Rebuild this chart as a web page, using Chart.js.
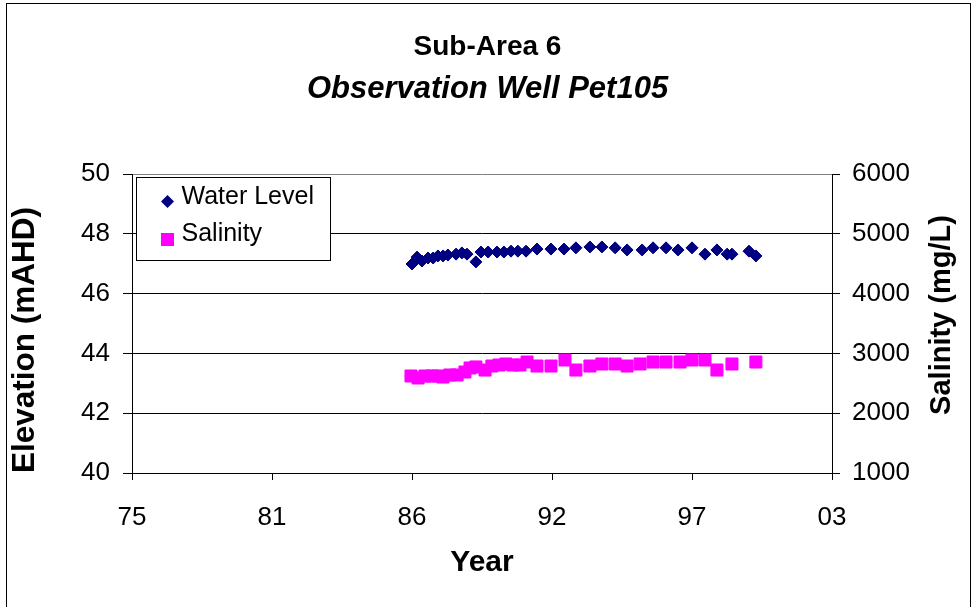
<!DOCTYPE html>
<html><head><meta charset="utf-8">
<script src="https://cdn.jsdelivr.net/npm/chart.js@4/dist/chart.umd.min.js"></script>
<style>html,body{margin:0;padding:0;background:#fff}canvas{display:block}</style>
</head><body>
<canvas id="c" width="975" height="607"></canvas>
<script>
const titleText = 'Sub-Area 6';
const subtitleText = 'Observation Well Pet105';
const xTitle = 'Year';
const yTitle = 'Elevation (mAHD)';
const y2Title = 'Salinity (mg/L)';
const xTickValues = [1975.5, 1981, 1986.5, 1992, 1997.5, 2003];
const xTickLabels = ['75', '81', '86', '92', '97', '03'];

const waterYears = [1986.50, 1986.70, 1986.89, 1987.13, 1987.33, 1987.52, 1987.72, 1987.91, 1988.23, 1988.46,
  1988.66, 1989.01, 1989.21, 1989.49, 1989.84, 1990.11, 1990.39, 1990.66, 1990.98, 1991.41,
  1991.96, 1992.47, 1992.94, 1993.49, 1993.96, 1994.48, 1994.95, 1995.54, 1995.97, 1996.48,
  1996.95, 1997.50, 1998.01, 1998.48, 1998.88, 1999.07, 1999.74, 2000.01];
const waterLevels = [46.99, 47.22, 47.09, 47.19, 47.19, 47.26, 47.26, 47.29, 47.32, 47.36,
  47.32, 47.06, 47.39, 47.39, 47.39, 47.39, 47.42, 47.42, 47.42, 47.49,
  47.49, 47.49, 47.53, 47.56, 47.56, 47.53, 47.46, 47.46, 47.53, 47.53,
  47.46, 47.53, 47.32, 47.46, 47.32, 47.32, 47.42, 47.26];

const salinityYears = [1986.46, 1986.74, 1987.01, 1987.29, 1987.52, 1987.72, 1987.99, 1988.27, 1988.58, 1988.78,
  1989.01, 1989.37, 1989.64, 1989.92, 1990.19, 1990.47, 1990.74, 1991.02, 1991.41, 1991.96,
  1992.51, 1992.94, 1993.49, 1993.96, 1994.48, 1994.95, 1995.46, 1995.97, 1996.48, 1997.03,
  1997.50, 1998.01, 1998.48, 1999.07, 2000.01];
const salinityValues = [2622, 2589, 2622, 2622, 2622, 2605, 2639, 2639, 2689, 2756,
  2773, 2722, 2789, 2806, 2823, 2806, 2806, 2856, 2789, 2789,
  2890, 2722, 2789, 2823, 2823, 2789, 2823, 2856, 2856, 2856,
  2890, 2890, 2722, 2823, 2856];

const FONT = "'Liberation Sans', Arial, sans-serif";

const waterPoints = waterYears.map((x, i) => ({x, y: waterLevels[i]}));
const salinityPoints = salinityYears.map((x, i) => ({x, y: salinityValues[i]}));

const frame = {
  id: 'frame',
  beforeDraw(chart) {
    const ctx = chart.ctx;
    ctx.save();
    ctx.fillStyle = '#fff';
    ctx.fillRect(0, 0, chart.width, chart.height);
    ctx.strokeStyle = '#000';
    ctx.lineWidth = 1;
    ctx.strokeRect(6.5, 3.5, 964, 640);
    ctx.restore();
  }
};

// vertical axis titles, both reading bottom-to-top
const axisTitles = {
  id: 'axisTitles',
  afterDraw(chart) {
    const ctx = chart.ctx;
    const a = chart.chartArea;
    ctx.save();
    ctx.fillStyle = '#000';
    ctx.textAlign = 'center';
    ctx.textBaseline = 'middle';
    ctx.font = 'bold 31.5px ' + FONT;
    ctx.translate(chart.scales.y.left + 25, a.top + 166);
    ctx.rotate(-Math.PI / 2);
    ctx.fillText(yTitle, 0, 0);
    ctx.restore();
    ctx.save();
    ctx.fillStyle = '#000';
    ctx.textAlign = 'center';
    ctx.textBaseline = 'middle';
    ctx.font = 'bold 29px ' + FONT;
    ctx.translate(chart.scales.y2.right - 33, a.top + 141);
    ctx.rotate(-Math.PI / 2);
    ctx.fillText(y2Title, 0, 0);
    ctx.restore();
  }
};

const boxLegend = {
  id: 'boxLegend',
  afterDraw(chart) {
    const ctx = chart.ctx;
    const a = chart.chartArea;
    const L = Math.round(a.left) + 4.5, T = Math.round(a.top) + 3.5, W = 194, H = 83;
    ctx.save();
    ctx.fillStyle = '#fff';
    ctx.fillRect(L, T, W, H);
    ctx.strokeStyle = '#000';
    ctx.lineWidth = 1;
    ctx.strokeRect(L, T, W, H);
    ctx.font = '25px ' + FONT;
    ctx.textBaseline = 'middle';
    chart.data.datasets.forEach((ds, i) => {
      const cy = T + 20 + i * 37;
      const mx = L + 31;
      ctx.fillStyle = ds.backgroundColor;
      ctx.beginPath();
      if (ds.pointStyle === 'rectRot') {
        const r = 6.5;
        ctx.moveTo(mx, cy + 4 - r); ctx.lineTo(mx + r, cy + 4); ctx.lineTo(mx, cy + 4 + r); ctx.lineTo(mx - r, cy + 4);
        ctx.closePath();
      } else {
        ctx.rect(mx - 6.5, cy + 5 - 6.5, 13, 13);
      }
      ctx.fill();
      ctx.fillStyle = '#000';
      ctx.fillText(ds.label, L + 45, cy);
    });
    ctx.restore();
  }
};

new Chart(document.getElementById('c'), {
  type: 'scatter',
  data: {
    datasets: [
      {label: 'Water Level', data: waterPoints, yAxisID: 'y', pointStyle: 'rectRot',
       backgroundColor: '#000080', borderColor: '#000080', pointRadius: 6, borderWidth: 1, pointHoverRadius: 6},
      {label: 'Salinity', data: salinityPoints, yAxisID: 'y2', pointStyle: 'rect',
       backgroundColor: '#FF00FF', borderColor: '#FF00FF', pointRadius: 8.5, borderWidth: 1, pointHoverRadius: 8.5}
    ]
  },
  options: {
    responsive: false,
    animation: false,
    events: [],
    layout: {padding: 0},
    plugins: {
      legend: {display: false},
      tooltip: {enabled: false},
      title: {display: true, text: titleText, color: '#000',
        font: {family: FONT, size: 28, weight: 'bold', lineHeight: 1.2}, padding: {top: 30, bottom: 7}},
      subtitle: {display: true, text: subtitleText, color: '#000',
        font: {family: FONT, size: 31, weight: 'bold', style: 'italic', lineHeight: 1.2}, padding: {top: 0, bottom: 66.2}}
    },
    scales: {
      x: {
        type: 'linear', position: 'bottom', min: 1975.5, max: 2003,
        afterBuildTicks: s => { s.ticks = xTickValues.map(v => ({value: v})); },
        afterFit: s => { s.height = 134; },
        ticks: {color: '#000', font: {family: FONT, size: 26}, padding: 22, maxRotation: 0,
          callback: (v, i) => xTickLabels[i]},
        grid: {drawOnChartArea: false, color: '#000', tickLength: 7, tickWidth: 1},
        border: {color: '#000', width: 1},
        title: {display: true, text: xTitle, color: '#000',
          font: {family: FONT, size: 30, weight: 'bold', lineHeight: 1.2}, padding: {top: 0, bottom: 26}}
      },
      y: {
        type: 'linear', position: 'left', min: 40, max: 50,
        afterFit: s => { s.width = 132; },
        ticks: {stepSize: 2, color: '#000', font: {family: FONT, size: 26}, padding: 13},
        grid: {color: c => (c.tick && c.tick.value === 50) ? '#808080' : '#000', tickLength: 9, tickColor: '#000'},
        border: {color: '#000', width: 1}
      },
      y2: {
        type: 'linear', position: 'right', min: 1000, max: 6000,
        afterFit: s => { s.width = 143; },
        ticks: {stepSize: 1000, color: '#000', font: {family: FONT, size: 26}, padding: 12,
          callback: v => String(v)},
        grid: {drawOnChartArea: false, color: '#000', tickLength: 8},
        border: {color: '#000', width: 1}
      }
    }
  },
  plugins: [frame, axisTitles, boxLegend]
});
</script>
</body></html>
